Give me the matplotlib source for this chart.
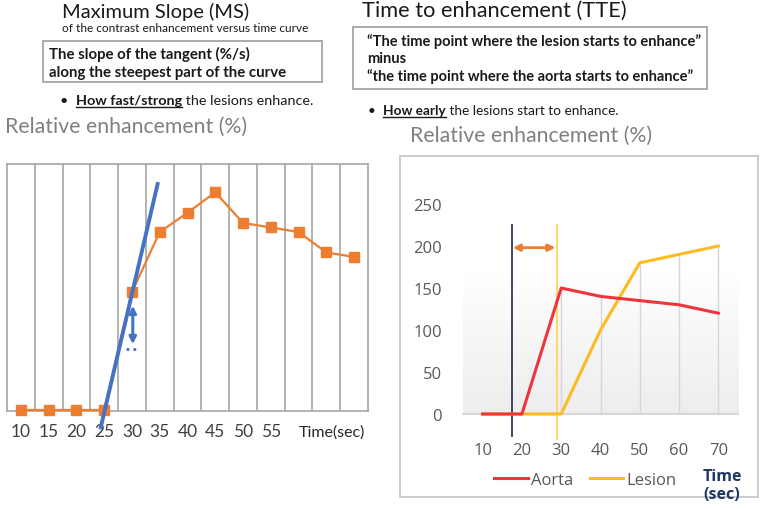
import numpy as np
import matplotlib.pyplot as plt
from matplotlib.lines import Line2D
from matplotlib.patches import Rectangle

# ---- data: maximum slope panel (left) ----
ms_times = [10, 15, 20, 25, 30, 35, 40, 45, 50, 55, 60, 65, 70]
ms_values = [0, 0, 0, 0, 104, 157, 174, 192, 165, 161, 157, 139, 135]
ms_tick_labels = ['10', '15', '20', '25', '30', '35', '40', '45', '50', '55']
tangent_t = [24.3, 34.7]
tangent_v = [-17, 201]
slope_arrow_t = 30.15
slope_arrow_v = [58, 92]

# ---- data: time to enhancement panel (right) ----
tte_times = [10, 20, 30, 40, 50, 60, 70]
aorta = [0, 0, 150, 140, 135, 130, 120]
lesion = [0, 0, 0, 100, 180, 190, 200]
aorta_start = 17.4
lesion_start = 28.8
tte_arrow_v = 198

W, H = 760, 510
plt.rcParams['font.family'] = ['Lato', 'DejaVu Sans']

fig = plt.figure(figsize=(W / 100, H / 100), dpi=100)
renderer = fig.canvas.get_renderer()


def fx(px):
    return px / W


def fy(py):
    return 1 - py / H


def put_parts(x, y, parts, size, color='#1a1a1a'):
    # draws a line of text made of several pieces, some bold / underlined
    for txt, weight, under in parts:
        t = fig.text(fx(x), fy(y), txt, fontsize=size, fontweight=weight,
                     color=color, va='baseline', ha='left')
        bb = t.get_window_extent(renderer)
        if under:
            fig.add_artist(Line2D([fx(bb.x0), fx(bb.x1)], [fy(y + 2.5), fy(y + 2.5)],
                                  color=color, lw=1.0))
        x = x + bb.width


def box(x0, y0, x1, y1, ec='#a6a6a6'):
    fig.add_artist(Rectangle((fx(x0), fy(y1)), fx(x1) - fx(x0), fy(y0) - fy(y1),
                             transform=fig.transFigure, fill=False, ec=ec, lw=1.3))


# ---------------- top texts, left ----------------
fig.text(fx(62), fy(18), 'Maximum Slope (MS)', fontsize=14.5, color='#1a1a1a', va='baseline')
fig.text(fx(62), fy(32), 'of the contrast enhancement versus time curve', fontsize=8.6,
         color='#1a1a1a', va='baseline')
box(43, 42, 322, 83)
fig.text(fx(49), fy(59), 'The slope of the tangent (%/s)', fontsize=10.8, fontweight='bold',
         color='#1a1a1a', va='baseline')
fig.text(fx(49), fy(77), 'along the steepest part of the curve', fontsize=10.8,
         fontweight='bold', color='#1a1a1a', va='baseline')
put_parts(60, 105, [('\u2022  ', 'normal', False), ('How fast/strong', 'bold', True),
                    (' the lesions enhance.', 'normal', False)], 10.4)
fig.text(fx(5), fy(133), 'Relative enhancement (%)', fontsize=15.3, color='#808080',
         va='baseline')

# ---------------- top texts, right ----------------
fig.text(fx(362), fy(17), 'Time to enhancement (TTE)', fontsize=15.7, color='#1a1a1a',
         va='baseline')
box(353, 28, 707, 90)
fig.text(fx(367), fy(46), '\u201cThe time point where the lesion starts to enhance\u201d',
         fontsize=10.5, fontweight='bold', color='#1a1a1a', va='baseline')
fig.text(fx(367), fy(63), 'minus', fontsize=10.5, fontweight='bold', color='#1a1a1a',
         va='baseline')
fig.text(fx(367), fy(81), '\u201cthe time point where the aorta starts to enhance\u201d',
         fontsize=10.5, fontweight='bold', color='#1a1a1a', va='baseline')
put_parts(368, 115, [('\u2022  ', 'normal', False), ('How early', 'bold', True),
                     (' the lesions start to enhance.', 'normal', False)], 9.8)
fig.text(fx(410), fy(142), 'Relative enhancement (%)', fontsize=15.3, color='#808080',
         va='baseline')

# ---------------- left chart ----------------
ax1 = fig.add_axes([fx(7), fy(412), fx(368) - fx(7), fy(165) - fy(412)])
ax1.set_xlim(7.5, 72.5)
ax1.set_ylim(-0.9, 217)
for s in ax1.spines.values():
    s.set_color('#a6a6a6')
    s.set_linewidth(1.2)
for g in np.arange(12.5, 70, 5):
    ax1.axvline(g, color='#a6a6a6', lw=1.2, zorder=1)
ax1.plot(ms_times, ms_values, color='#ED7D31', lw=1.6, marker='s', markersize=6.5,
         zorder=3, clip_on=False)
ax1.plot(tangent_t, tangent_v, color='#4472C4', lw=2.8, zorder=4, clip_on=False,
         solid_capstyle='butt')
ax1.annotate('', xy=(slope_arrow_t, slope_arrow_v[1]), xytext=(slope_arrow_t, slope_arrow_v[0]),
             arrowprops=dict(arrowstyle='<|-|>', color='#4472C4', lw=2.2, mutation_scale=10,
                             shrinkA=0, shrinkB=0), zorder=5)
ax1.plot([slope_arrow_t - 1.2, slope_arrow_t + 1.2], [slope_arrow_v[0] - 4] * 2,
         color='#4472C4', lw=2, ls=(0, (1, 1.5)), zorder=5)
ax1.set_xticks(ms_times[:len(ms_tick_labels)])
ax1.set_xticklabels(ms_tick_labels)
ax1.set_yticks([])
ax1.tick_params(axis='x', length=0, pad=9, labelsize=12.5, labelcolor='#404040')
fig.text(fx(332), fy(433), 'Time(sec)', fontsize=11.5, color='#262626', ha='center',
         va='center')

# ---------------- right chart ----------------
box(400, 157, 758, 498, ec='#c8c8c8')
ax2 = fig.add_axes([fx(463), fy(415), fx(738) - fx(463), fy(205) - fy(415)])
ax2.set_xlim(5, 75)
ax2.set_ylim(0, 250)
for s in ax2.spines.values():
    s.set_visible(False)
# soft grey wash behind the lower part of the plot
grad = np.linspace(0.93, 1.0, 100)
grad_img = np.repeat(grad[:, None, None], 3, axis=2) * np.ones((1, 2, 1))
ax2.imshow(grad_img, extent=[5, 75, 0, 175], origin='lower', aspect='auto', zorder=0,
           vmin=0, vmax=1)
ax2.axhline(0, color='#d0d0d0', lw=1.2, zorder=1, clip_on=False)
for t, a, l in zip(tte_times, aorta, lesion):
    ax2.plot([t, t], [0, max(a, l)], color='#d6d6d6', lw=1, zorder=1)
ax2.plot([aorta_start] * 2, [-26, 225], color='#3F4462', lw=1.4, zorder=2, clip_on=False)
ax2.plot([lesion_start] * 2, [-30, 225], color='#FFD966', lw=1.4, zorder=2, clip_on=False)
h_a, = ax2.plot(tte_times, aorta, color='#F0333C', lw=2.2, zorder=4, clip_on=False,
                label='Aorta')
h_l, = ax2.plot(tte_times, lesion, color='#FFBA1F', lw=2.2, zorder=3, clip_on=False,
                label='Lesion')
ax2.annotate('', xy=(lesion_start - 0.3, tte_arrow_v), xytext=(aorta_start + 0.3, tte_arrow_v),
             arrowprops=dict(arrowstyle='<|-|>', color='#ED7D31', lw=2, mutation_scale=10,
                             shrinkA=0, shrinkB=0), zorder=5)
ax2.set_xticks(tte_times)
ax2.set_yticks(np.arange(0, 251, 50))
ax2.tick_params(length=0, labelsize=12, labelcolor='#595959')
ax2.tick_params(axis='x', pad=20)
ax2.tick_params(axis='y', pad=15)
for lab in ax2.get_xticklabels() + ax2.get_yticklabels():
    lab.set_fontfamily(['Open Sans', 'DejaVu Sans'])
leg = ax2.legend(handles=[h_a, h_l], loc='center left', bbox_to_anchor=(fx(486), fy(481)),
                 bbox_transform=fig.transFigure, ncol=2, frameon=False, handlelength=2.0,
                 handletextpad=0.2, columnspacing=1.0, borderpad=0, labelcolor='#595959',
                 prop={'family': ['Open Sans', 'DejaVu Sans'], 'size': 12})
fig.text(fx(722), fy(486), 'Time\n(sec)', fontsize=11.5, fontweight='bold', color='#1F3864',
         ha='center', va='center', linespacing=1.15,
         family=['Open Sans', 'DejaVu Sans'])

fig.savefig('out.png', dpi=100)
